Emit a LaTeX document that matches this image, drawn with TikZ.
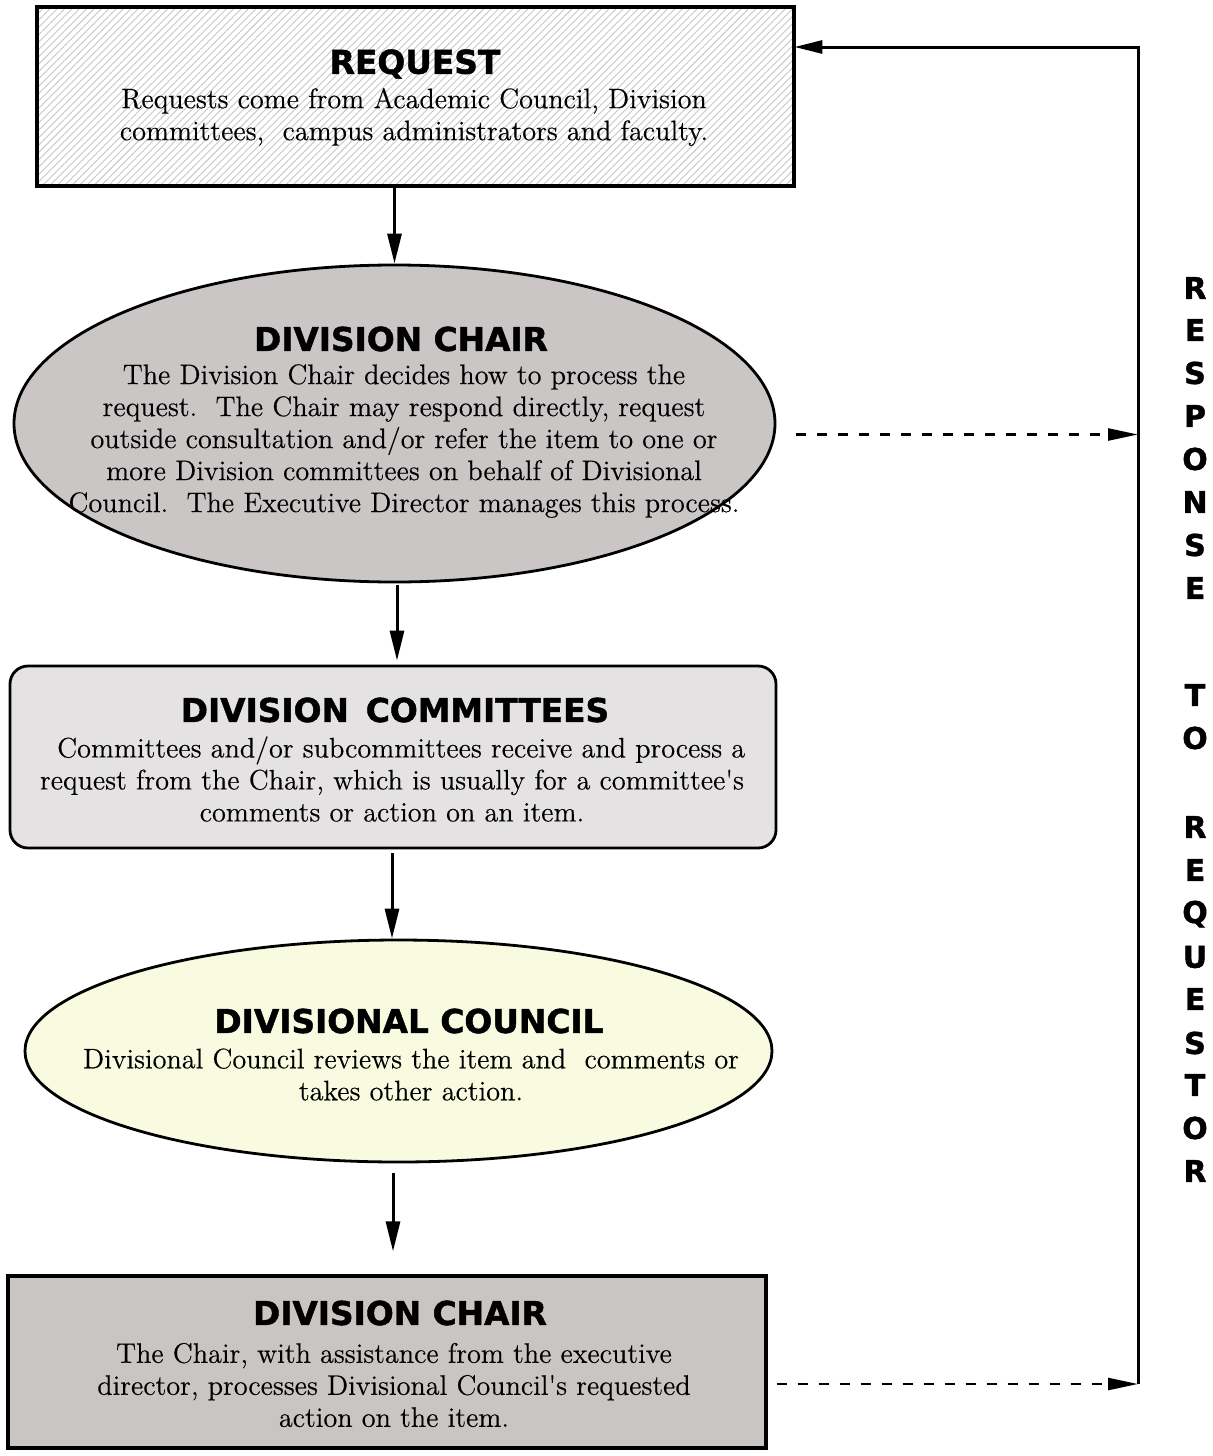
\documentclass[tikz,border=0pt]{standalone}
\usepackage{fontspec}
\usetikzlibrary{shapes.geometric,arrows.meta,patterns.meta,calc}
\newfontfamily\titlefont[BoldFont={DejaVu Sans Bold}, BoldFeatures={FakeBold=1.4}]{DejaVu Sans}
\newfontfamily\bodyfont[FakeBold=0.35]{lmroman12-regular.otf}
\definecolor{chairgray}{HTML}{C9C6C5}
\definecolor{comgray}{HTML}{E4E2E3}
\definecolor{councilyellow}{HTML}{F9FBE1}
\definecolor{botgray}{HTML}{C9C5C3}
\tikzset{
  shapebox/.style={draw=black, line width=1.6pt, inner sep=0pt},
  titletext/.style={font=\titlefont\bfseries\fontsize{16.4}{19}\selectfont, inner sep=0pt},
  bodytext/.style={font=\bodyfont\fontsize{14.1}{16}\selectfont, align=center, inner sep=0pt},
  lettertext/.style={font=\titlefont\bfseries\fontsize{15}{16}\selectfont, inner sep=0pt},
  flowarrow/.style={line width=1.5pt, -{Triangle[length=15pt,width=7pt]}},
  dasharrow/.style={line width=1.2pt, dash pattern=on 5pt off 5.5pt, -{Triangle[length=15pt,width=6pt]}},
}
\begin{document}
\begin{tikzpicture}[x=0.5pt,y=-0.5pt]
\useasboundingbox (0,0) rectangle (1212,1456);
% shapes
\node[shapebox, rectangle, minimum width=378.5pt, minimum height=89.5pt,
      preaction={fill=white}, pattern={Lines[angle=45,distance=2.6pt,line width=0.45pt]}, pattern color=black!22] (req) at (415.5,96.5) {};
\node[shapebox, ellipse, minimum width=380.5pt, minimum height=158.5pt, fill=chairgray, line width=1.4pt] (ch1) at (394.5,423.5) {};
\node[shapebox, rectangle, rounded corners=9pt, minimum width=383pt, minimum height=91pt, fill=comgray, line width=1.4pt] (com) at (393,757) {};
\node[shapebox, ellipse, minimum width=373.5pt, minimum height=111pt, fill=councilyellow, line width=1.4pt] (cou) at (398.5,1051) {};
\node[shapebox, rectangle, minimum width=379pt, minimum height=86pt, fill=botgray] (bot) at (387,1362) {};
% texts
\node[titletext] (reqT) at (415,64) {REQUEST};
\node[bodytext] (reqB) at (414,117) {Requests come from Academic Council, Division\\committees,\ \ campus administrators and faculty.};
\node[titletext] (ch1T) at (401,339) {DIVISION CHAIR};
\node[bodytext] (ch1B) at (404,441) {The Division Chair decides how to process the\\request.\ \ The Chair may respond directly, request\\outside consultation and/or refer the item to one or\\more Division committees on behalf of Divisional\\Council.\ \ The Executive Director manages this process.};
\node[titletext] (comT) at (395,710) {DIVISION\ \,COMMITTEES};
\node[bodytext] (comB) at (392,779) {\ \ Committees and/or subcommittees receive and process a\\request from the Chair, which is usually for a committee's\\comments or action on an item.};
\node[titletext] (couT) at (409,1021) {DIVISIONAL COUNCIL};
\node[bodytext] (couB) at (411,1074.5) {Divisional Council reviews the item and\ \ comments or\\takes other action.};
\node[titletext] (botT) at (400,1313) {DIVISION CHAIR};
\node[bodytext] (botB) at (394,1385) {The Chair, with assistance from the executive\\director, processes Divisional Council's requested\\action on the item.};
% vertical text
\foreach \ch/\yy [count=\i] in {R/288,E/330,S/373,P/416,O/459,N/502,S/545,E/588,T/695,O/738,R/827,E/870,Q/914,U/957,E/999,S/1043,T/1085,O/1128,R/1171}
  \node[lettertext] (let\i) at (1195,\yy) {\ch};
% connectors
\coordinate (rt) at (1138,47);
\coordinate (d1) at ($(ch1.east)+(20,11)$);
\coordinate (d2) at ($(bot.east)+(9,22)$);
\coordinate (rb) at (rt |- d2);
\draw[line width=1.5pt, -{Triangle[length=14pt,width=6.5pt]}] (rb) -- (rt) -- (req.east |- rt);
\draw[dasharrow] (d1) -- (d1 -| rt);
\draw[dasharrow] (d2) -- (rb);
\draw[flowarrow] (req.south -| ch1.north) -- (ch1.north);
\draw[flowarrow, shorten >=2pt, shorten <=1pt] ($(ch1.south)+(2.5,0)$) -- ($(ch1.south |- com.north)+(2.5,0)$);
\draw[flowarrow, shorten <=2pt] ($(com.south)+(-1,0)$) -- ($(com.south |- cou.north)+(-1,0)$);
\draw[flowarrow, shorten <=5pt, shorten >=11.5pt] (cou.south -| com.south) -- (com.south |- bot.north);
\end{tikzpicture}
\end{document}
